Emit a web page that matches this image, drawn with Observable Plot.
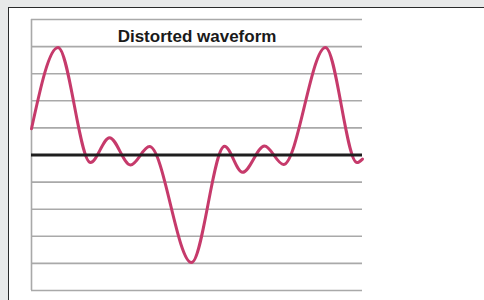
<!DOCTYPE html>
<html>
<head>
<meta charset="utf-8">
<script src="https://cdn.jsdelivr.net/npm/d3@7"></script>
<script src="https://cdn.jsdelivr.net/npm/@observablehq/plot@0.6"></script>
<style>
  html, body { margin: 0; padding: 0; }
  body { width: 484px; height: 300px; background: #e8e9e9; position: relative; overflow: hidden; font-family: "Liberation Sans", Arial, sans-serif; }
  #panel { position: absolute; left: 8px; top: 7px; width: 480px; height: 300px; background: #ffffff; border-top: 1.5px solid #2a2a2a; border-left: 1.5px solid #2a2a2a; }
  #chart { position: absolute; left: 0; top: 0; }
</style>
</head>
<body>
<div id="panel"></div>
<div id="chart"></div>
<script>
const title = "Distorted waveform";
// time position (arbitrary units) of the start, every turning point, and the end
const t = [0, 26.5, 59, 78, 99, 118, 160, 193, 211, 233, 252, 294, 325.5, 331];
// signal amplitude at those positions
const amp = [0.97, 3.97, -0.28, 0.64, -0.37, 0.31, -3.97, 0.32, -0.64, 0.33, -0.35, 3.97, -0.28, -0.15];
const gridValues = [-5, -4, -3, -2, -1, 1, 2, 3, 4, 5];

const data = t.map((v, i) => ({t: v, a: amp[i]}));

const chart = Plot.plot({
  width: 484,
  height: 300,
  marginLeft: 31,
  marginRight: 122,
  marginTop: 19,
  marginBottom: 10,
  style: {background: "transparent", fontFamily: "'Liberation Sans', Arial, sans-serif"},
  x: {domain: [0, 331], axis: null},
  y: {domain: [-5, 5], axis: null},
  marks: [
    Plot.ruleY(gridValues, {stroke: "#a9a9a9", strokeWidth: 1.6}),
    Plot.ruleX([0], {stroke: "#a9a9a9", strokeWidth: 1.6}),
    Plot.line(data, {x: "t", y: "a", curve: "monotone-x", stroke: "#c63a6b", strokeWidth: 3, strokeLinejoin: "round", strokeLinecap: "round"}),
    Plot.ruleY([0], {stroke: "#1e1e1e", strokeWidth: 2.8}),
    Plot.text([title], {frameAnchor: "top", dy: 10, fontSize: 17, fontWeight: "bold", fill: "#1a1a1a"})
  ]
});
document.getElementById("chart").appendChild(chart);
</script>
</body>
</html>
